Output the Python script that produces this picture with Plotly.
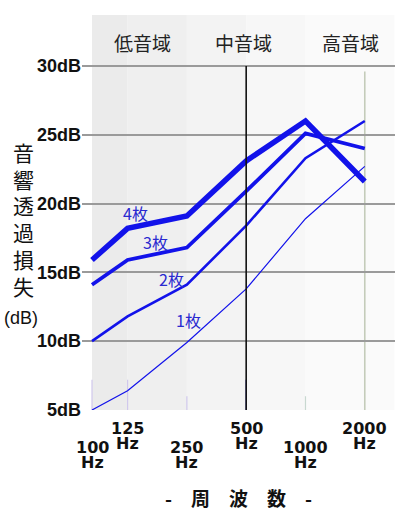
import plotly.graph_objects as go

# frequency bands and where they sit on the (non-log) axis
freqs = ["100", "125", "250", "500", "1000", "2000"]
freq_pos = [0, 0.6, 1.6, 2.6, 3.6, 4.6]

# sound transmission loss (dB) for 1-4 panes
loss_1 = [5.0, 6.4, 9.9, 13.8, 18.9, 22.7]
loss_2 = [10.0, 11.8, 14.1, 18.4, 23.3, 26.0]
loss_3 = [14.1, 15.9, 16.8, 20.9, 25.1, 24.0]
loss_4 = [15.9, 18.2, 19.1, 23.1, 26.0, 21.6]
series_names = ["1枚", "2枚", "3枚", "4枚"]

y_ticks = [5, 10, 15, 20, 25, 30]
bands = ["低音域", "中音域", "高音域"]

LATIN = "Liberation Sans, Arial, sans-serif"
WIDE = "DejaVu Sans, sans-serif"
CJK = "Noto Sans CJK JP, sans-serif"
BLUE = "#1212ea"

# plot area in pixels: x 82..395, y 15..410
def px_x(p):
    return (p - 82) / 313


def px_y(p):
    return (410 - p) / 395


def note(x, y, text, font, xref="paper", yref="paper"):
    fig.add_annotation(x=x, y=y, xref=xref, yref=yref, text=text, showarrow=False,
                       xanchor="center", yanchor="middle", font=font)


fig = go.Figure()

widths = [1.2, 2.6, 3.8, 5.5]
for name, vals, w in zip(series_names, [loss_1, loss_2, loss_3, loss_4], widths):
    fig.add_trace(go.Scatter(x=freq_pos, y=vals, mode="lines", name=name,
                             line=dict(color=BLUE, width=w), hoverinfo="skip"))

# background bands (gradient from grey to white)
shades = ["#ebebeb", "#efefef", "#f3f3f3", "#f7f7f7", "#fafafa"]
edges = freq_pos[:5] + [5.1]
for i, c in enumerate(shades):
    fig.add_shape(type="rect", xref="x", yref="y", x0=edges[i], x1=edges[i + 1],
                  y0=5, y1=33.7, fillcolor=c, line_width=0, layer="below")

# short vertical ticks at the bottom
tick_cols = ["#d0c8ec", "#d0c8ec", "#d0c8ec", "#3030c0", "#c8d8d0"]
tick_tops = [7.2, 7.2, 6.0, 7.2, 6.0]
for p, c, t in zip(freq_pos[:5], tick_cols, tick_tops):
    fig.add_shape(type="line", xref="x", yref="y", x0=p, x1=p, y0=5, y1=t,
                  line=dict(color=c, width=1.2), layer="below")
# full lines at 500 and 2000
fig.add_shape(type="line", xref="x", yref="y", x0=freq_pos[3], x1=freq_pos[3],
              y0=5, y1=30, line=dict(color="#111111", width=1.6))
fig.add_shape(type="line", xref="x", yref="y", x0=freq_pos[5], x1=freq_pos[5],
              y0=5, y1=29.6, line=dict(color="#c4ccba", width=1.6), layer="below")

# band titles
for txt, x in zip(bands, [142, 243, 350]):
    note(px_x(x), px_y(42), txt, dict(family=CJK, size=19, color="#222222"))

# series labels
for txt, x, y in zip(series_names, [1.62, 1.345, 1.075, 0.733], [11.54, 14.52, 17.21, 19.32]):
    note(x, y, txt, dict(family=CJK, size=16, color="#2a2ad0"), "x", "y")

# staggered frequency labels
for i, (f, p) in enumerate(zip(freqs, freq_pos)):
    ypix = 447 if i % 2 == 0 else 428
    note(p, px_y(ypix), f"<b>{f}</b>", dict(family=WIDE, size=16, color="#111111"), "x")
    note(p, px_y(ypix + 15), "<b>Hz</b>", dict(family=WIDE, size=16, color="#111111"), "x")

# vertical y title
for i, ch in enumerate("音響透過損失"):
    note(px_x(23), px_y(152 + i * 26.7), ch, dict(family=CJK, size=21, color="#111111"))
note(px_x(21), px_y(318), "(dB)", dict(family=LATIN, size=18, color="#111111"))

# x title
note(px_x(238), px_y(497), "<b>-　周　波　数　-</b>", dict(family=CJK, size=19, color="#111111"))

fig.update_layout(
    width=400, height=516,
    margin=dict(l=82, r=5, t=15, b=106),
    paper_bgcolor="white", plot_bgcolor="white",
    showlegend=False,
    xaxis=dict(range=[-10 / 59.3, 303 / 59.3], showgrid=False, zeroline=False,
               showticklabels=False, fixedrange=True),
    yaxis=dict(range=[5, 33.7], tickvals=y_ticks, ticktext=[f"<b>{v}dB</b>" for v in y_ticks],
               showgrid=True, gridcolor="#9a9a9a", gridwidth=1.5, zeroline=False,
               tickfont=dict(family=LATIN, size=18, color="#111111"), ticklabelstandoff=0),
)

fig.write_html("out.html", config={"displayModeBar": False},
               post_script="document.body.style.margin='0px';")
